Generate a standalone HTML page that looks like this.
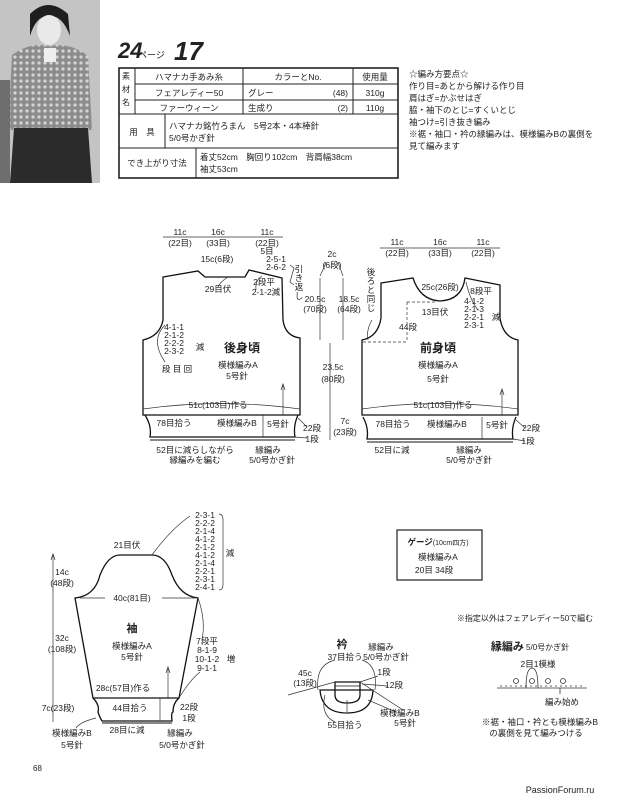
<!DOCTYPE html>
<html><head><meta charset="utf-8"><style>
html,body{margin:0;padding:0;background:#fff;}
svg{display:block;}
text{font-family:"Liberation Sans","Noto Sans CJK JP",sans-serif;fill:#222;}
</style></head><body>
<svg width="631" height="800" viewBox="0 0 631 800" xmlns="http://www.w3.org/2000/svg">
<defs>
<pattern id="knit" width="6" height="6" patternUnits="userSpaceOnUse">
<rect width="6" height="6" fill="#8c8c8c"/><circle cx="3" cy="3" r="1.6" fill="#d5d5d5"/>
</pattern>
</defs>
<!-- photo -->
<rect x="0" y="0" width="100" height="183" fill="#c9c9c9"/>
<rect x="0" y="0" width="100" height="183" fill="#bdbdbd" opacity="0.4"/>
<path d="M30,14 Q48,-4 68,14 L70,36 Q62,14 48,16 Q36,16 30,36Z" fill="#1e1e1e"/>
<ellipse cx="49" cy="30" rx="12" ry="15" fill="#e9e9e9"/>
<path d="M12,55 Q30,42 49,46 Q70,42 88,56 L92,130 L8,130 Z" fill="url(#knit)"/>
<rect x="22" y="58" width="30" height="20" fill="url(#knit)"/>
<rect x="44" y="48" width="12" height="14" fill="#eee"/>
<path d="M14,128 L88,128 L92,183 L10,183 Z" fill="#2b2b2b"/>
<rect x="0" y="80" width="10" height="103" fill="#6e6e6e"/>

<!-- heading -->
<text x="118" y="58" font-size="22" font-weight="bold" font-style="italic" fill="#111">24</text>
<text x="138" y="58" font-size="9">ページ</text>
<text x="174" y="60" font-size="26" font-weight="bold" font-style="italic" fill="#111">17</text>

<!-- table -->
<g stroke="#222" fill="none">
<rect x="119" y="68" width="279" height="110" stroke-width="1.6"/>
<line x1="135" y1="84" x2="398" y2="84"/>
<line x1="135" y1="100" x2="398" y2="100"/>
<line x1="119" y1="114" x2="398" y2="114"/>
<line x1="119" y1="148" x2="398" y2="148"/>
<line x1="135" y1="68" x2="135" y2="114"/>
<line x1="243" y1="68" x2="243" y2="114"/>
<line x1="353" y1="68" x2="353" y2="114"/>
<line x1="165" y1="114" x2="165" y2="148"/>
<line x1="196" y1="148" x2="196" y2="178"/>
</g>
<g font-size="8.5">
<text x="122" y="79" font-size="8">素</text><text x="122" y="92" font-size="8">材</text><text x="122" y="105" font-size="8">名</text>
<text x="189" y="80" text-anchor="middle">ハマナカ手あみ糸</text>
<text x="298" y="80" text-anchor="middle">カラーとNo.</text>
<text x="375" y="80" text-anchor="middle">使用量</text>
<text x="189" y="96" text-anchor="middle">フェアレディー50</text>
<text x="248" y="96">グレー</text><text x="348" y="96" text-anchor="end">(48)</text>
<text x="375" y="96" text-anchor="middle">310g</text>
<text x="189" y="111" text-anchor="middle">ファーウィーン</text>
<text x="248" y="111">生成り</text><text x="348" y="111" text-anchor="end">(2)</text>
<text x="375" y="111" text-anchor="middle">110g</text>
<text x="142" y="135" text-anchor="middle">用　具</text>
<text x="169" y="129">ハマナカ銘竹ろまん　5号2本・4本棒針</text>
<text x="169" y="141">5/0号かぎ針</text>
<text x="157" y="166" text-anchor="middle">でき上がり寸法</text>
<text x="200" y="160">着丈52cm　胸回り102cm　背肩幅38cm</text>
<text x="200" y="172">袖丈53cm</text>
</g>
<g font-size="8.5">
<text x="409" y="77">☆編み方要点☆</text>
<text x="409" y="89">作り目=あとから解ける作り目</text>
<text x="409" y="101">肩はぎ=かぶせはぎ</text>
<text x="409" y="113">脇・袖下のとじ=すくいとじ</text>
<text x="409" y="125">袖つけ=引き抜き編み</text>
<text x="409" y="137">※裾・袖口・衿の縁編みは、模様編みBの裏側を</text>
<text x="409" y="149">見て編みます</text>
</g>

<!-- BACK -->
<g stroke="#111" fill="none" stroke-width="1.3">
<path d="M163,277 L198,271 L205,277 L245,277 L249,270 L282,278 L283,320 Q285,336 300,338 L300,415 L143,415 L143,340 Q160,336 163,320 Z"/>
<path d="M145,415 Q152,426 150,437 L295,437 Q293,426 298,415"/>
<line x1="150" y1="440" x2="295" y2="440" stroke-width="1"/>
</g>
<g stroke="#333" fill="none" stroke-width="0.7">
<line x1="163" y1="237" x2="283" y2="237"/>
<line x1="283" y1="415" x2="283" y2="385"/><path d="M281,390 L283,384 L285,390"/>
<line x1="263" y1="415" x2="263" y2="437"/>
<path d="M143,409 Q220,398 300,409"/>
<path d="M295,437 L307,438"/><path d="M298,418 L307,427"/>
<path d="M290,265 L294,268 L290,282 L294,285 M228,277 Q220,282 218,287 M262,276 Q255,280 256,290 M165,325 Q150,340 165,362"/>
</g>
<g font-size="8.5" text-anchor="middle">
<text x="180" y="235">11c</text><text x="180" y="246">(22目)</text>
<text x="218" y="235">16c</text><text x="218" y="246">(33目)</text>
<text x="267" y="235">11c</text><text x="267" y="246">(22目)</text>
<text x="217" y="262">15c(6段)</text>
<text x="267" y="254">5目</text><text x="276" y="262">2-5-1</text><text x="276" y="270">2-6-2</text>
<text x="299" y="272">引</text><text x="299" y="281">き</text><text x="299" y="290">返</text><text x="299" y="299">し</text>
<text x="218" y="292">29目伏</text>
<text x="264" y="285">2段平</text><text x="266" y="295">2-1-2減</text>
<text x="174" y="330">4-1-1</text><text x="174" y="338">2-1-2</text><text x="174" y="346">2-2-2</text><text x="174" y="354">2-3-2</text>
<text x="200" y="350">減</text><text x="177" y="372">段 目 回</text>
<text x="242" y="352" font-size="12" font-weight="bold">後身頃</text>
<text x="238" y="368">模様編みA</text><text x="237" y="379">5号針</text>
<text x="218" y="408">51c(103目)作る</text>
<text x="174" y="426">78目拾う</text><text x="237" y="426">模様編みB</text><text x="278" y="427">5号針</text>
<text x="312" y="431">22段</text><text x="312" y="442">1段</text>
<text x="195" y="453">52目に減らしながら</text><text x="195" y="463">縁編みを編む</text>
<text x="268" y="453">縁編み</text><text x="272" y="463">5/0号かぎ針</text>
</g>

<!-- CENTER dims -->
<g stroke="#333" stroke-width="0.7" fill="none">
<line x1="320" y1="278" x2="320" y2="340"/><line x1="343" y1="278" x2="343" y2="340"/>
<line x1="330" y1="343" x2="330" y2="418"/><line x1="330" y1="418" x2="330" y2="440"/>
<path d="M320,276 Q324,268 326,262 M343,276 Q340,268 338,262"/>
</g>
<g font-size="8.5" text-anchor="middle">
<text x="332" y="257">2c</text><text x="332" y="268">(6段)</text>
<text x="315" y="302">20.5c</text><text x="315" y="312">(70段)</text>
<text x="349" y="302">18.5c</text><text x="349" y="312">(64段)</text>
<text x="333" y="370">23.5c</text><text x="333" y="382">(80段)</text>
<text x="345" y="424">7c</text><text x="345" y="435">(23段)</text>
</g>

<!-- FRONT -->
<g stroke="#111" fill="none" stroke-width="1.3">
<path d="M381,283 L413,278 Q420,300 440,301 Q462,300 465,278 L500,285 L500,318 Q503,337 518,340 L518,415 L362,415 L362,340 Q378,337 381,318 Z"/>
<path d="M363,417 Q369,428 367,439 L513,439 Q511,428 516,417"/>
<line x1="367" y1="442" x2="513" y2="442" stroke-width="1"/>
</g>
<g stroke="#333" fill="none" stroke-width="0.7">
<line x1="380" y1="248" x2="500" y2="248"/>
<g stroke-dasharray="3,2"><line x1="407" y1="302" x2="437" y2="302"/><line x1="407" y1="302" x2="407" y2="342"/><line x1="363" y1="342" x2="407" y2="342"/></g>
<line x1="502" y1="415" x2="502" y2="390"/><path d="M500,395 L502,389 L504,395"/>
<line x1="482" y1="417" x2="482" y2="439"/>
<path d="M362,409 Q440,398 518,409"/>
<path d="M513,439 L525,441 M516,420 L525,428 M372,320 Q366,330 368,340 M466,282 Q470,300 478,310"/>
</g>
<g font-size="8.5" text-anchor="middle">
<text x="397" y="245">11c</text><text x="397" y="256">(22目)</text>
<text x="440" y="245">16c</text><text x="440" y="256">(33目)</text>
<text x="483" y="245">11c</text><text x="483" y="256">(22目)</text>
<text x="371" y="275">後</text><text x="371" y="284">ろ</text><text x="371" y="293">と</text><text x="371" y="302">同</text><text x="371" y="311">じ</text>
<text x="440" y="290">25c(26段)</text><text x="481" y="294">8段平</text>
<text x="474" y="304">4-1-2</text><text x="474" y="312">2-1-3</text><text x="474" y="320">2-2-1</text><text x="474" y="328">2-3-1</text>
<text x="496" y="320">減</text>
<text x="435" y="315">13目伏</text><text x="408" y="330">44段</text>
<text x="438" y="352" font-size="12" font-weight="bold">前身頃</text>
<text x="438" y="368">模様編みA</text><text x="438" y="382">5号針</text>
<text x="443" y="408">51c(103目)作る</text>
<text x="393" y="427">78目拾う</text><text x="447" y="427">模様編みB</text><text x="497" y="428">5号針</text>
<text x="531" y="431">22段</text><text x="528" y="444">1段</text>
<text x="392" y="453">52目に減</text>
<text x="469" y="453">縁編み</text><text x="469" y="463">5/0号かぎ針</text>
</g>

<!-- SLEEVE -->
<g stroke="#111" fill="none" stroke-width="1.3">
<path d="M75,598 Q95,596 100,575 Q108,555 120,555 L152,555 Q165,555 172,575 Q180,596 198,598 L179,698 L93,698 Z"/>
<path d="M93,698 Q100,705 98,712 Q100,718 102,721 L172,721 Q171,712 173,712 Q173,703 179,698"/>
<line x1="102" y1="723" x2="172" y2="723" stroke-width="1"/>
</g>
<g stroke="#333" fill="none" stroke-width="0.7">
<line x1="53" y1="555" x2="53" y2="722"/>
<path d="M51,560 L53,554 L55,560"/>
<line x1="80" y1="598" x2="105" y2="598"/><line x1="162" y1="598" x2="195" y2="598"/>
<line x1="168" y1="698" x2="168" y2="668"/><path d="M166,673 L168,667 L170,673"/>
<line x1="160" y1="698" x2="160" y2="721"/>
<path d="M152,555 Q170,530 190,516 M198,598 Q206,620 202,640 M179,698 Q190,680 200,672 M96,718 Q80,722 76,728"/>
<path d="M219,514 Q223,514 223,520 L223,585 Q223,590 219,590"/>
</g>
<g font-size="8.5" text-anchor="middle">
<text x="127" y="548">21目伏</text>
<text x="205" y="518">2-3-1</text><text x="205" y="526">2-2-2</text><text x="205" y="534">2-1-4</text><text x="205" y="542">4-1-2</text><text x="205" y="550">2-1-2</text><text x="205" y="558">4-1-2</text><text x="205" y="566">2-1-4</text><text x="205" y="574">2-2-1</text><text x="205" y="582">2-3-1</text><text x="205" y="590">2-4-1</text>
<text x="230" y="556">減</text>
<text x="62" y="575">14c</text><text x="62" y="586">(48段)</text>
<text x="132" y="601">40c(81目)</text>
<text x="132" y="632" font-size="11" font-weight="bold">袖</text>
<text x="132" y="649">模様編みA</text><text x="132" y="660">5号針</text>
<text x="62" y="641">32c</text><text x="62" y="652">(108段)</text>
<text x="207" y="644">7段平</text><text x="207" y="653">8-1-9</text><text x="207" y="662">10-1-2</text><text x="207" y="671">9-1-1</text>
<text x="231" y="662">増</text>
<text x="123" y="691">28c(57目)作る</text>
<text x="58" y="711">7c(23段)</text>
<text x="130" y="711">44目拾う</text>
<text x="189" y="710">22段</text><text x="189" y="721">1段</text>
<text x="72" y="736">模様編みB</text><text x="72" y="748">5号針</text>
<text x="127" y="733">28目に減</text>
<text x="180" y="736">縁編み</text><text x="182" y="748">5/0号かぎ針</text>
</g>

<!-- GAUGE -->
<rect x="397" y="530" width="85" height="50" fill="none" stroke="#222" stroke-width="1.2"/>
<g font-size="8.5" text-anchor="middle">
<text x="438" y="545"><tspan font-weight="bold">ゲージ</tspan><tspan font-size="7">(10cm四方)</tspan></text>
<text x="438" y="560">模様編みA</text>
<text x="434" y="573">20目 34段</text>
<text x="525" y="621" font-size="8">※指定以外はフェアレディー50で編む</text>
</g>

<!-- COLLAR -->
<g stroke="#111" fill="none" stroke-width="1.3">
<path d="M320,690 Q322,713 347,713 Q372,713 373,690 Z"/>
<path d="M335,682 L360,682 L360,695 Q360,703 347,703 Q335,703 335,695 Z"/>
<line x1="335" y1="686" x2="360" y2="686" stroke-width="0.8"/>
</g>
<g stroke="#333" fill="none" stroke-width="0.7">
<path d="M288,695 L335,682 M360,682 L403,710"/>
<path d="M318,690 Q315,665 335,660 M375,690 Q378,665 362,660 M325,695 Q320,715 335,722 M368,700 L396,712 M347,712 L347,700 M360,682 L378,676 M362,684 L388,686"/>
</g>
<g font-size="8.5" text-anchor="middle">
<text x="342" y="648" font-size="11" font-weight="bold">衿</text>
<text x="345" y="660">37目拾う</text>
<text x="381" y="650">縁編み</text><text x="386" y="660">5/0号かぎ針</text>
<text x="305" y="676">45c</text><text x="305" y="686">(13段)</text>
<text x="384" y="675">1段</text><text x="394" y="688">12段</text>
<text x="400" y="716">模様編みB</text><text x="405" y="726">5号針</text>
<text x="345" y="728">55目拾う</text>
</g>

<!-- EDGING -->
<g stroke="#333" fill="none" stroke-width="0.8">
<line x1="497" y1="688" x2="587" y2="688"/>
<line x1="500" y1="686" x2="585" y2="686" stroke-dasharray="2,3"/>
<circle cx="516" cy="681" r="2.5"/><circle cx="532" cy="681" r="2.5"/><circle cx="548" cy="681" r="2.5"/><circle cx="563" cy="681" r="2.5"/>
<path d="M526,688 Q526,668 532,668 Q538,668 538,688"/>
<line x1="560" y1="688" x2="560" y2="694"/>
</g>
<g font-size="8.5" text-anchor="middle">
<text x="530" y="650"><tspan font-size="11" font-weight="bold">縁編み</tspan><tspan font-size="8"> 5/0号かぎ針</tspan></text>
<text x="538" y="667">2目1模様</text>
<text x="562" y="705">編み始め</text>
<text x="540" y="725">※裾・袖口・衿とも模様編みB</text>
<text x="536" y="736">の裏側を見て編みつける</text>
</g>

<text x="33" y="771" font-size="8">68</text>
<text x="560" y="793" font-size="9" fill="#aaa" text-anchor="middle">PassionForum.ru</text>
</svg>
</body></html>
